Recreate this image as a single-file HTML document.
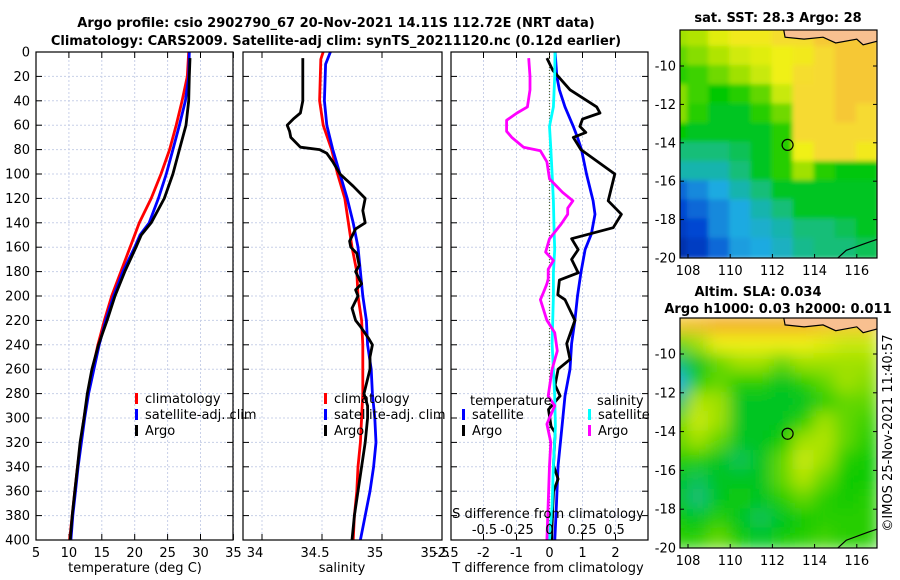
<!DOCTYPE html>
<html><head><meta charset="utf-8">
<style>
html,body{margin:0;padding:0;background:#fff;}
svg{display:block;font-family:"DejaVu Sans","Liberation Sans",sans-serif;}
</style></head>
<body>
<svg id="chart" width="900" height="580" viewBox="0 0 900 580" xmlns="http://www.w3.org/2000/svg">
<defs>
<filter id="blur1" x="-5%" y="-5%" width="110%" height="110%"><feGaussianBlur stdDeviation="2.5"/></filter>
<filter id="blur2" x="-5%" y="-5%" width="110%" height="110%"><feGaussianBlur stdDeviation="8"/></filter>
<clipPath id="clipTop"><rect x="680" y="30" width="197" height="228"/></clipPath>
<clipPath id="clipBot"><rect x="680" y="318" width="197" height="230"/></clipPath>
</defs>
<g font-weight="bold" font-size="13" text-anchor="middle">
<text x="336" y="27">Argo profile: csio 2902790_67 20-Nov-2021 14.11S 112.72E (NRT data)</text>
<text x="336" y="45">Climatology: CARS2009. Satellite-adj clim: synTS_20211120.nc (0.12d earlier)</text>
</g>
</svg>
<script>
// ---- data ----
const depthTicks=[0,20,40,60,80,100,120,140,160,180,200,220,240,260,280,300,320,340,360,380,400];
const tempTicks=[5,10,15,20,25,30,35];
const salTicks=[34,34.5,35,35.5];
const tdiffTicks=[-2,-1,0,1,2];
const sdiffTicks=[-0.5,-0.25,0,0.25,0.5];
const sdiffTickLabels=["-0.5","-0.25","0","0.25","0.5"];

const tClimDepth=[0,20,40,60,80,100,120,140,160,180,200,220,240,260,280,300,320,340,360,380,400];
const tClim=[28.2,28.0,27.2,26.3,25.3,24.0,22.5,20.7,19.3,17.9,16.5,15.4,14.4,13.6,12.9,12.3,11.8,11.3,10.9,10.5,10.1];
const tSatDepth=[0,20,40,60,80,100,120,140,150,160,180,200,220,240,260,280,300,320,340,360,380,400];
const tSat=[28.3,28.2,27.7,26.8,25.8,24.8,23.6,22.2,20.8,20.0,18.2,16.8,15.6,14.6,13.8,13.0,12.4,11.9,11.4,11.0,10.6,10.3];
const tArgoDepth=[5,20,40,60,80,100,120,140,150,160,180,200,220,240,260,280,300,320,340,360,380,400];
const tArgo=[28.4,28.3,28.2,27.8,26.8,25.8,24.5,22.5,21.0,20.2,18.5,17.0,15.8,14.5,13.5,12.8,12.3,11.7,11.3,10.9,10.5,10.2];

const sClimDepth=[0,6,40,60,80,100,120,140,160,180,200,220,240,260,280,300,320,340,360,380,400];
const sClim=[34.51,34.49,34.48,34.51,34.58,34.63,34.69,34.72,34.75,34.79,34.80,34.83,34.84,34.84,34.84,34.83,34.82,34.80,34.79,34.77,34.76];
const sSatDepth=[0,10,40,60,80,100,120,140,160,180,200,220,240,260,280,300,320,340,360,380,400];
const sSat=[34.57,34.53,34.52,34.54,34.59,34.65,34.71,34.76,34.80,34.82,34.84,34.87,34.88,34.91,34.92,34.94,34.95,34.93,34.90,34.86,34.82];
const sArgoDepth=[5,20,40,50,55,60,65,70,78,80,83,90,100,110,120,130,140,145,155,160,165,175,180,190,195,200,210,220,225,235,240,250,260,280,290,300,320,340,360,380,400];
const sArgo=[34.34,34.34,34.34,34.32,34.26,34.21,34.23,34.24,34.32,34.48,34.54,34.59,34.65,34.76,34.86,34.84,34.86,34.78,34.73,34.74,34.79,34.81,34.78,34.83,34.78,34.80,34.75,34.78,34.82,34.89,34.92,34.90,34.90,34.85,34.88,34.88,34.86,34.83,34.80,34.77,34.75];

const dTArgoDepth=[5,15,31,45,50,55,61,66,70,80,100,122,133,144,149,153,162,170,181,187,199,203,220,239,252,260,273,282,293,307,312,339,350,360,372,394,400];
const dTArgo=[-0.08,0.1,0.62,1.43,1.53,1.0,0.92,1.1,0.72,0.95,1.98,1.78,2.18,1.93,1.23,0.67,0.87,0.67,0.87,0.3,0.25,0.47,0.77,0.52,0.62,0.26,0.17,0.32,-0.03,0.05,0.17,0.12,0.26,0.12,0.1,0.07,0.07];
const dTSatDepth=[0,20,31,45,61,70,80,100,122,133,149,162,181,200,220,239,260,282,307,339,372,400];
const dTSat=[0.17,0.22,0.3,0.47,0.72,0.85,0.97,1.12,1.32,1.38,1.27,1.08,0.95,0.85,0.77,0.67,0.62,0.47,0.38,0.26,0.21,0.16];
const dSSatDepth=[0,20,45,61,79,100,122,144,162,181,200,239,282,307,339,372,400];
const dSSat=[0.042,0.04,0.03,0.0,0.01,0.02,0.03,0.035,0.04,0.03,0.03,0.02,0.04,0.045,0.03,0.02,0.0];
const dSArgoDepth=[5,20,31,45,50,56,65,70,78,81,90,104,115,122,128,133,141,153,164,171,178,186,190,198,203,220,230,245,260,282,290,305,320,339,370,400];
const dSArgo=[-0.16,-0.15,-0.15,-0.17,-0.25,-0.33,-0.33,-0.29,-0.2,-0.07,-0.02,0.0,0.1,0.18,0.14,0.14,0.09,0.0,-0.03,0.03,-0.01,-0.01,-0.02,-0.05,-0.07,-0.02,0.04,0.06,0.02,-0.01,0.04,-0.02,0.01,0.0,-0.01,-0.02];

const mapLonTicks=[108,110,112,114,116];
const mapLatTicks=[-10,-12,-14,-16,-18,-20];
const gridLons=[107.5,108.5,109.5,110.5,111.5,112.5,113.5,114.5,115.5,116.5];
const gridLats=[-8.5,-9.5,-10.5,-11.5,-12.5,-13.5,-14.5,-15.5,-16.5,-17.5,-18.5,-19.5];
const sstGrid=[
[0.6,0.62,0.68,0.72,0.72,0.75,0.75,0.8,0.8,0.8],
[0.55,0.58,0.62,0.66,0.68,0.7,0.72,0.76,0.8,0.8],
[0.5,0.52,0.56,0.6,0.65,0.7,0.75,0.76,0.8,0.8],
[0.58,0.52,0.47,0.5,0.55,0.65,0.76,0.76,0.8,0.8],
[0.58,0.5,0.45,0.45,0.5,0.56,0.76,0.76,0.8,0.76],
[0.47,0.45,0.45,0.45,0.45,0.5,0.76,0.76,0.76,0.76],
[0.4,0.4,0.4,0.42,0.45,0.5,0.7,0.76,0.76,0.72],
[0.35,0.35,0.35,0.4,0.45,0.5,0.6,0.5,0.46,0.46],
[0.2,0.25,0.3,0.35,0.4,0.45,0.45,0.45,0.45,0.45],
[0.15,0.2,0.25,0.3,0.35,0.4,0.45,0.45,0.45,0.45],
[0.12,0.15,0.25,0.3,0.32,0.35,0.4,0.4,0.42,0.45],
[0.08,0.12,0.2,0.28,0.3,0.33,0.38,0.4,0.4,0.42]];
const slaGrid=[
[0.8,0.82,0.85,0.85,0.85,0.85,0.85,0.82,0.8,0.8],
[0.55,0.6,0.7,0.7,0.7,0.7,0.7,0.68,0.65,0.65],
[0.4,0.45,0.55,0.6,0.6,0.55,0.6,0.6,0.6,0.6],
[0.3,0.5,0.55,0.5,0.5,0.45,0.5,0.55,0.6,0.58],
[0.4,0.62,0.6,0.45,0.45,0.45,0.45,0.5,0.55,0.55],
[0.55,0.65,0.6,0.45,0.45,0.45,0.5,0.6,0.55,0.52],
[0.55,0.6,0.55,0.45,0.45,0.48,0.6,0.62,0.55,0.5],
[0.5,0.5,0.45,0.42,0.45,0.55,0.65,0.6,0.5,0.48],
[0.45,0.42,0.45,0.45,0.45,0.55,0.62,0.55,0.48,0.48],
[0.45,0.4,0.45,0.48,0.45,0.5,0.55,0.5,0.48,0.5],
[0.48,0.45,0.5,0.45,0.42,0.45,0.48,0.5,0.5,0.5],
[0.5,0.5,0.55,0.48,0.45,0.48,0.5,0.52,0.5,0.5]];
const argoLon=112.72, argoLat=-14.11;

// ---- helpers ----
const NS="http://www.w3.org/2000/svg";
const svg=document.getElementById('chart');
function mk(tag,attrs,parent){const e=document.createElementNS(NS,tag);for(const k in attrs)e.setAttribute(k,attrs[k]);(parent||svg).appendChild(e);return e;}
const Y0=52,YS=1.22;
const yD=d=>Y0+d*YS;
const xT=t=>36+(t-5)*6.58;
const xS=s=>262+(s-34)*120;
const xDT=t=>549.5+t*33;
const xDS=s=>549.5+s*130;

function panel(name,x0,x1,vTicks,xf){
  const g=mk('g',{});
  
  
  depthTicks.forEach(d=>{mk('line',{x1:x0,x2:x1,y1:yD(d),y2:yD(d),stroke:'#c8d0e8','stroke-width':1,'stroke-dasharray':'2,2'},g);
    mk('line',{x1:x0,x2:x0+6,y1:yD(d),y2:yD(d),stroke:'#000'},g);
    mk('line',{x1:x1-6,x2:x1,y1:yD(d),y2:yD(d),stroke:'#000'},g);});
  vTicks.forEach(v=>{const x=xf(v);mk('line',{x1:x,x2:x,y1:Y0,y2:yD(400),stroke:'#c8d0e8','stroke-dasharray':'2,2'},g);
    mk('line',{x1:x,x2:x,y1:yD(400),y2:yD(400)-6,stroke:'#000'},g);mk('line',{x1:x,x2:x,y1:Y0,y2:Y0+6,stroke:'#000'},g);});
  return g;
}
function series(name,depths,vals,xf,color,w,g){
  const pts=depths.map((d,i)=>xf(vals[i]).toFixed(1)+','+yD(d).toFixed(1)).join(' ');
  const p=mk('polyline',{points:pts,fill:'none',stroke:color,'stroke-width':w,'stroke-linejoin':'round'},g);
  
  
  return p;
}
function frame(x0,x1,g){mk('rect',{x:x0,y:Y0,width:x1-x0,height:yD(400)-Y0,fill:'none',stroke:'#000','stroke-width':1.2},g);}
function txt(s,x,y,attrs,parent){const t=mk('text',Object.assign({x:x,y:y,'font-size':13},attrs||{}),parent);t.textContent=s;return t;}

const yl=mk('g',{});


depthTicks.forEach(d=>txt(String(d),30,yD(d)+4.5,{'text-anchor':'end'},yl));

// Panel 1
const p1=panel('temperature-panel',36,233,tempTicks,xT);
series('temp-climatology-line',tClimDepth,tClim,xT,'#ff0000',2.8,p1);
series('temp-satellite-line',tSatDepth,tSat,xT,'#0000ff',2.8,p1);
series('temp-argo-line',tArgoDepth,tArgo,xT,'#000',2.8,p1);
frame(36,233,p1);
tempTicks.forEach(v=>txt(String(v),xT(v),557,{'text-anchor':'middle'},p1));
const xl1=txt('temperature (deg C)',135,572,{'text-anchor':'middle'});



function legendEntry(name,x,y,color,label,g){
  const e=mk('g',{},g);
  
  
  mk('rect',{x:x,y:y-9,width:3,height:11,fill:color},e);
  txt(label,x+10,y+1,{},e);
}
const lg1=mk('g',{});


legendEntry('legend-climatology',135,402,'#ff0000','climatology',lg1);
legendEntry('legend-satellite-adj-clim',135,418,'#0000ff','satellite-adj. clim',lg1);
legendEntry('legend-argo',135,434,'#000','Argo',lg1);

// Panel 2
const p2=panel('salinity-panel',243,442,salTicks,xS);
series('sal-climatology-line',sClimDepth,sClim,xS,'#ff0000',2.8,p2);
series('sal-satellite-line',sSatDepth,sSat,xS,'#0000ff',2.8,p2);
series('sal-argo-line',sArgoDepth,sArgo,xS,'#000',2.8,p2);
frame(243,442,p2);
salTicks.forEach(v=>txt(String(v),xS(v)-7,557,{'text-anchor':'middle'},p2));
const xl2=txt('salinity',342,572,{'text-anchor':'middle'});


const lg2=mk('g',{});


legendEntry('legend-climatology-2',324,402,'#ff0000','climatology',lg2);
legendEntry('legend-satellite-adj-clim-2',324,418,'#0000ff','satellite-adj. clim',lg2);
legendEntry('legend-argo-2',324,434,'#000','Argo',lg2);

// Panel 3
const p3=panel('difference-panel',451,648,tdiffTicks,xDT);
mk('line',{x1:xDT(0),x2:xDT(0),y1:Y0,y2:yD(400),stroke:'#556633','stroke-width':1.2,'stroke-dasharray':'1,2'},p3);
series('dT-satellite-line',dTSatDepth,dTSat,xDT,'#0000ff',2.8,p3);
series('dT-argo-line',dTArgoDepth,dTArgo,xDT,'#000',2.8,p3);
series('dS-satellite-line',dSSatDepth,dSSat,xDS,'#00ffff',2.8,p3);
series('dS-argo-line',dSArgoDepth,dSArgo,xDS,'#ff00ff',2.8,p3);
frame(451,648,p3);
txt('-2.5',446,557,{'text-anchor':'middle'},p3);
tdiffTicks.forEach(v=>txt(String(v),xDT(v),557,{'text-anchor':'middle'},p3));
const xl3=txt('T difference from climatology',548,572,{'text-anchor':'middle'});


const sdt=txt('S difference from climatology',548,518,{'text-anchor':'middle'});


sdiffTicks.forEach((v,i)=>txt(sdiffTickLabels[i],xDS(v),534,{'text-anchor':'middle'},p3));
const lg3=mk('g',{});


txt('temperature',470,405,{},lg3);
txt('salinity',597,405,{},lg3);
legendEntry('legend-t-satellite',462,418,'#0000ff','satellite',lg3);
legendEntry('legend-t-argo',462,434,'#000','Argo',lg3);
legendEntry('legend-s-satellite',588,418,'#00ffff','satellite',lg3);
legendEntry('legend-s-argo',588,434,'#ff00ff','Argo',lg3);

// ---- maps ----
const cmapStops=[[0,[0,24,130]],[0.15,[0,70,210]],[0.3,[30,170,225]],[0.4,[20,190,120]],[0.47,[0,200,0]],[0.6,[160,225,0]],[0.7,[240,240,20]],[0.78,[248,210,60]],[0.88,[240,160,30]],[1,[220,100,0]]];
function cmap(v){for(let i=1;i<cmapStops.length;i++){if(v<=cmapStops[i][0]){const a=cmapStops[i-1],b=cmapStops[i];const f=(v-a[0])/(b[0]-a[0]);const c=a[1].map((x,k)=>Math.round(x+(b[1][k]-x)*f));return 'rgb('+c.join(',')+')';}}return 'rgb(220,100,0)';}

function drawMap(name,top,y10,y20,grid,blur,clip){
  const xL=lon=>688+(lon-108)*21.1;
  const ps=(y20-y10)/10;
  const yL=lat=>y10+(-10-lat)*ps;
  const g=mk('g',{});
  
  
  const cg=mk('g',{'clip-path':'url(#'+clip+')'},g);
  const hg=mk('g',{filter:'url(#'+blur+')'},cg);
  gridLats.forEach((lat,r)=>gridLons.forEach((lon,c)=>{
    const cell=mk('rect',{x:xL(lon-0.5)-1,y:yL(lat+0.5)-1,width:21.1+2,height:ps+2,fill:cmap(grid[r][c])},hg);
    
    
  }));
  const land=mk('path',{d:`M${xL(112.5)},${yL(-7.9)} L${xL(112.6)},${yL(-8.5)} L${xL(113.5)},${yL(-8.6)} L${xL(114.4)},${yL(-8.5)} L${xL(115)},${yL(-8.8)} L${xL(116)},${yL(-8.6)} L${xL(116.3)},${yL(-8.9)} L${xL(117)},${yL(-8.7)} L${xL(118)},${yL(-8.6)} L${xL(118)},${yL(-7.9)} Z`,fill:'#f8c090',stroke:'#000','stroke-width':1.2},cg);
  
  
  mk('polyline',{points:`${xL(115)},${yL(-20.1)} ${xL(115.5)},${yL(-19.6)} ${xL(116.5)},${yL(-19.2)} ${xL(117.3)},${yL(-18.9)} ${xL(118)},${yL(-18.7)}`,fill:'none',stroke:'#000','stroke-width':1.2},cg);
  const m=mk('circle',{cx:xL(argoLon),cy:yL(argoLat),r:5.5,fill:'none',stroke:'#000','stroke-width':1.2},g);
  
  
  mk('rect',{x:680,y:top,width:197,height:(y20-top),fill:'none',stroke:'#000','stroke-width':1.2},g);
  mapLatTicks.forEach(lat=>{const y=yL(lat);mk('line',{x1:680,x2:684,y1:y,y2:y,stroke:'#000'},g);mk('line',{x1:873,x2:877,y1:y,y2:y,stroke:'#000'},g);
    txt(String(lat),676,y+4.5,{'text-anchor':'end'},g);});
  mapLonTicks.forEach(lon=>{const x=xL(lon);mk('line',{x1:x,x2:x,y1:y20,y2:y20-4,stroke:'#000'},g);
    txt(String(lon),x,y20+17,{'text-anchor':'middle'},g);});
}
drawMap('sst-map',30,66,258,sstGrid,'blur1','clipTop');
drawMap('sla-map',318,354,548,slaGrid,'blur2','clipBot');

const mt=mk('g',{'font-weight':'bold','text-anchor':'middle'});


txt('sat. SST: 28.3 Argo: 28',778,22,{},mt);
txt('Altim. SLA: 0.034',758,296,{},mt);
txt('Argo h1000: 0.03 h2000: 0.011',778,313,{},mt);

const cr=txt('©IMOS 25-Nov-2021 11:40:57',0,0,{'text-anchor':'middle','transform':'translate(892,433) rotate(-90)'});


</script>
</body></html>
